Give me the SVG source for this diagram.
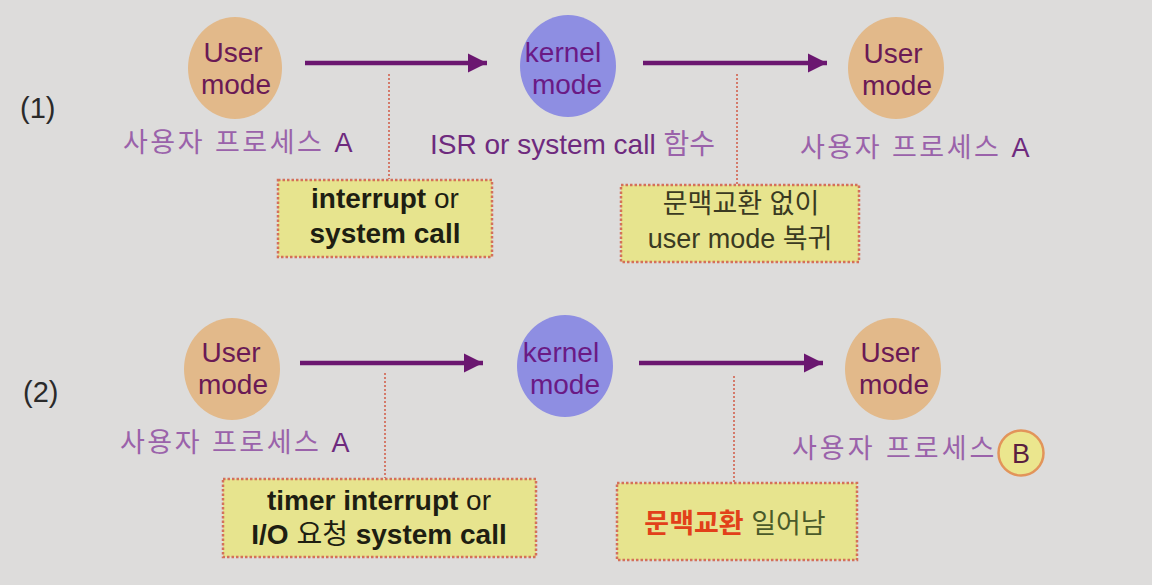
<svg xmlns="http://www.w3.org/2000/svg" width="1152" height="585" viewBox="0 0 1152 585">
<defs>
<style>
text{font-family:"Liberation Sans","Noto Sans CJK KR",sans-serif;}
.user{fill:#e2b98a;}
.kern{fill:#8e8ee2;}
.nt{font-size:28px;fill:#6a1a55;text-anchor:middle;}
.kt{font-size:28px;fill:#6a1a85;text-anchor:middle;}
.lab{font-size:27px;fill:#9a62aa;letter-spacing:2.5px;}
.lat{fill:#6e2a7e;}
.arrow{stroke:#6b1770;stroke-width:4.5;fill:none;}
.dot{stroke:#d47a6a;stroke-width:2;stroke-dasharray:2 2;fill:none;}
.box{fill:#e7e48e;stroke:#d4705a;stroke-width:2.5;stroke-dasharray:2.5 2;}
.bt{font-size:28px;fill:#1e1e12;text-anchor:middle;}
.b{font-weight:bold;}
.ot{font-size:27px;fill:#3a3a22;text-anchor:middle;}
.num{font-size:29px;fill:#2a2a2a;}
</style>
<marker id="ah" markerUnits="userSpaceOnUse" markerWidth="22" markerHeight="22" refX="19" refY="11" orient="auto">
<path d="M0,1.5 L19,11 L0,20.5 Z" fill="#6b1770"/>
</marker>
</defs>
<rect width="1152" height="585" fill="#dddcdb"/>

<text class="num" x="20" y="118">(1)</text>
<text class="num" x="23" y="402">(2)</text>

<g id="connectors">
<line class="arrow" x1="305" y1="63" x2="487" y2="63" marker-end="url(#ah)"/>
<line class="arrow" x1="643" y1="63" x2="827" y2="63" marker-end="url(#ah)"/>
<line class="arrow" x1="300" y1="363" x2="483" y2="363" marker-end="url(#ah)"/>
<line class="arrow" x1="639" y1="363" x2="823" y2="363" marker-end="url(#ah)"/>
<line class="dot" x1="389" y1="74" x2="389" y2="179"/>
<line class="dot" x1="737" y1="74" x2="737" y2="184"/>
<line class="dot" x1="385" y1="373" x2="385" y2="478"/>
<line class="dot" x1="734" y1="376" x2="734" y2="482"/>
</g>

<g id="user1a">
<ellipse class="user" cx="235" cy="68" rx="47" ry="51"/>
<text class="nt" x="233" y="62">User</text>
<text class="nt" x="236" y="94">mode</text>
<text class="lab" x="123" y="152">사용자 프로세스 <tspan class="lat">A</tspan></text>
</g>

<g id="kernel1">
<ellipse class="kern" cx="568" cy="66" rx="48" ry="51"/>
<text class="kt" x="563" y="62">kernel</text>
<text class="kt" x="567" y="94">mode</text>
<text x="430" y="154" style="font-size:28px;fill:#9a62aa"><tspan class="lat">ISR or system call </tspan>함수</text>
</g>

<g id="user1b">
<ellipse class="user" cx="896" cy="68" rx="48" ry="51"/>
<text class="nt" x="893" y="63">User</text>
<text class="nt" x="897" y="95">mode</text>
<text class="lab" x="800" y="157">사용자 프로세스 <tspan class="lat">A</tspan></text>
</g>

<g id="box1">
<rect class="box" x="278" y="180" width="214" height="77"/>
<text class="bt" x="385" y="208"><tspan class="b">interrupt</tspan> or</text>
<text class="bt b" x="385" y="243">system call</text>
</g>

<g id="box2">
<rect class="box" x="621" y="185" width="238" height="77"/>
<text class="ot" x="741" y="213">문맥교환 없이</text>
<text class="ot" x="740" y="248">user mode 복귀</text>
</g>

<g id="user2a">
<ellipse class="user" cx="232" cy="369" rx="48" ry="51"/>
<text class="nt" x="231" y="362">User</text>
<text class="nt" x="233" y="394">mode</text>
<text class="lab" x="120" y="452">사용자 프로세스 <tspan class="lat">A</tspan></text>
</g>

<g id="kernel2">
<ellipse class="kern" cx="565" cy="366" rx="48" ry="51"/>
<text class="kt" x="561" y="362">kernel</text>
<text class="kt" x="565" y="394">mode</text>
</g>

<g id="user2b">
<ellipse class="user" cx="893" cy="369" rx="48" ry="51"/>
<text class="nt" x="890" y="362">User</text>
<text class="nt" x="894" y="394">mode</text>
<text class="lab" x="792" y="458" style="letter-spacing:3px">사용자 프로세스</text>
<circle cx="1021" cy="453" r="22.5" fill="#ebe68e" stroke="#e2945a" stroke-width="2.5"/>
<text x="1021" y="463" style="font-size:27px;fill:#5a2040;text-anchor:middle">B</text>
</g>

<g id="box3">
<rect class="box" x="223" y="479" width="313" height="78"/>
<text class="bt" x="379" y="510"><tspan class="b">timer interrupt</tspan> or</text>
<text class="bt" x="379" y="544"><tspan class="b">I/O</tspan> 요청 <tspan class="b">system call</tspan></text>
</g>

<g id="box4">
<rect class="box" x="617" y="483" width="240" height="77"/>
<text class="ot" x="735" y="533"><tspan class="b" style="fill:#e2401a">문맥교환</tspan><tspan style="fill:#4a5a2a"> 일어남</tspan></text>
</g>
</svg>
